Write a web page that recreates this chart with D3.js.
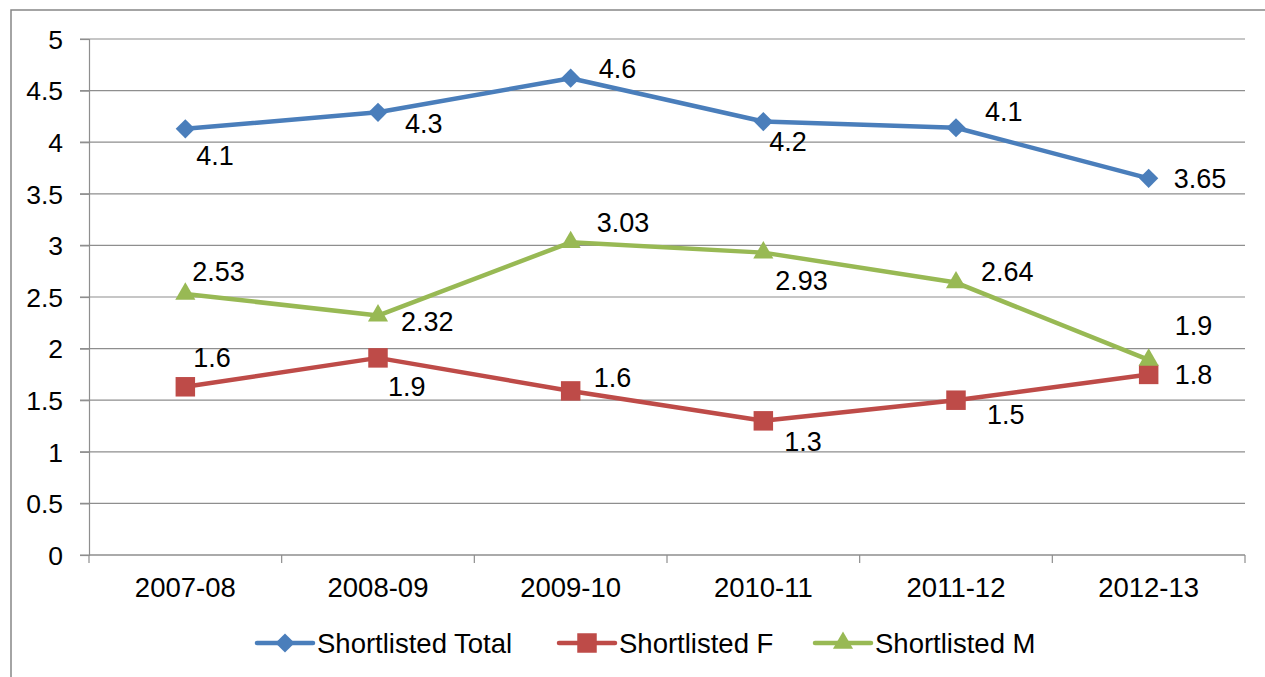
<!DOCTYPE html>
<html>
<head>
<meta charset="utf-8">
<script src="https://cdn.jsdelivr.net/npm/d3@7"></script>
<style>
  html, body { margin: 0; padding: 0; background: #fff; }
  svg { display: block; font-family: "Liberation Sans", Arial, sans-serif; }
</style>
</head>
<body>
<div id="chart"></div>
<script>
// categories and values
const years = ["2007-08", "2008-09", "2009-10", "2010-11", "2011-12", "2012-13"];
const yTicks = [0, 0.5, 1, 1.5, 2, 2.5, 3, 3.5, 4, 4.5, 5];

const totalValues = [4.13, 4.29, 4.62, 4.2, 4.14, 3.65];
const femaleValues = [1.63, 1.91, 1.59, 1.3, 1.5, 1.75];
const maleValues = [2.53, 2.32, 3.03, 2.93, 2.64, 1.89];

// data labels as they are printed on the chart
const totalLabels = ["4.1", "4.3", "4.6", "4.2", "4.1", "3.65"];
const femaleLabels = ["1.6", "1.9", "1.6", "1.3", "1.5", "1.8"];
const maleLabels = ["2.53", "2.32", "3.03", "2.93", "2.64", "1.9"];

const seriesNames = ["Shortlisted Total", "Shortlisted F", "Shortlisted M"];

// label placement (offset from the point), kept apart from the data
const totalLabelPos = [[11, 27], [27, 11], [28, -10], [6, 20], [29, -16], [25, 0]];
const femaleLabelPos = [[8, -29], [10, 29], [23, -13], [21, 21], [31, 14], [26, 0]];
const maleLabelPos = [[7, -22], [23, 6], [26, -20], [12, 28], [25, -11], [26, -34]];

const width = 1265, height = 677;
const margin = {top: 39, right: 20, bottom: 122, left: 89};

const svg = d3.select("#chart")
  .append("svg")
  .attr("width", width)
  .attr("height", height);

// outer chart border (runs off the right and bottom edge)
svg.append("rect")
  .attr("x", 11)
  .attr("y", 10)
  .attr("width", width)
  .attr("height", height)
  .attr("fill", "none")
  .attr("stroke", "#868686")
  .attr("stroke-width", 1.5);

const x = d3.scaleBand()
  .domain(years)
  .range([margin.left, width - margin.right])
  .padding(0);

const y = d3.scaleLinear()
  .domain([0, 5])
  .range([height - margin.bottom, margin.top]);

const cx = d => x(d) + x.bandwidth() / 2;

// horizontal gridlines
svg.append("g")
  .selectAll("line")
  .data(yTicks)
  .enter().append("line")
  .attr("x1", margin.left - 9)
  .attr("x2", width - margin.right)
  .attr("y1", d => y(d))
  .attr("y2", d => y(d))
  .attr("stroke", "#8e8e8e")
  .attr("stroke-width", 1.2);

// y axis
const yAxis = svg.append("g")
  .attr("transform", `translate(${margin.left},0)`)
  .call(d3.axisLeft(y).tickValues(yTicks).tickSize(9).tickPadding(17).tickFormat(d3.format("")));
yAxis.select(".domain").attr("stroke", "#8e8e8e").attr("stroke-width", 1.2);
yAxis.selectAll(".tick line").attr("stroke", "#8e8e8e").attr("stroke-width", 1.2);
yAxis.selectAll("text")
  .attr("font-family", "Liberation Sans, Arial, sans-serif")
  .attr("font-size", 26.5)
  .attr("fill", "#000")
  .attr("dy", "0.35em");

// x axis: labels at band centres, ticks on band edges like Excel
const xAxis = svg.append("g")
  .attr("transform", `translate(0,${y(0)})`)
  .call(d3.axisBottom(x).tickSize(0).tickPadding(22));
xAxis.select(".domain").remove();
xAxis.selectAll("text")
  .attr("font-family", "Liberation Sans, Arial, sans-serif")
  .attr("font-size", 27.5)
  .attr("fill", "#000");

svg.append("line")
  .attr("x1", margin.left)
  .attr("x2", width - margin.right)
  .attr("y1", y(0))
  .attr("y2", y(0))
  .attr("stroke", "#8e8e8e")
  .attr("stroke-width", 1.2);

svg.append("g")
  .selectAll("line")
  .data(years.map(d => x(d)).concat([x.range()[1]]))
  .enter().append("line")
  .attr("x1", d => d)
  .attr("x2", d => d)
  .attr("y1", y(0))
  .attr("y2", y(0) + 8)
  .attr("stroke", "#8e8e8e")
  .attr("stroke-width", 1.2);

const series = [
  {name: seriesNames[0], values: totalValues, labels: totalLabels, pos: totalLabelPos, color: "#4a7ebb", marker: d3.symbolSquare, size: 185, rotate: 45},
  {name: seriesNames[1], values: femaleValues, labels: femaleLabels, pos: femaleLabelPos, color: "#be4b48", marker: d3.symbolSquare, size: 380, rotate: 0},
  {name: seriesNames[2], values: maleValues, labels: maleLabels, pos: maleLabelPos, color: "#98b954", marker: d3.symbolTriangle, size: 175, rotate: 0}
];

const line = d3.line()
  .x((d, i) => cx(years[i]))
  .y(d => y(d));

series.forEach(s => {
  svg.append("path")
    .datum(s.values)
    .attr("d", line)
    .attr("fill", "none")
    .attr("stroke", s.color)
    .attr("stroke-width", 4.5)
    .attr("stroke-linejoin", "round")
    .attr("stroke-linecap", "round");

  svg.append("g")
    .selectAll("path")
    .data(s.values)
    .enter().append("path")
    .attr("d", d3.symbol().type(s.marker).size(s.size))
    .attr("transform", (d, i) => `translate(${cx(years[i])},${y(d)}) rotate(${s.rotate})`)
    .attr("fill", s.color);
});

// data labels drawn after all lines so they stay on top
series.forEach(s => {
  svg.append("g")
    .selectAll("text")
    .data(s.values)
    .enter().append("text")
    .attr("x", (d, i) => cx(years[i]) + s.pos[i][0])
    .attr("y", (d, i) => y(d) + s.pos[i][1])
    .attr("dy", "0.35em")
    .attr("font-size", 27)
    .attr("fill", "#000")
    .text((d, i) => s.labels[i]);
});

// legend
const legendX = [257, 559, 815];
const legend = svg.append("g");
series.forEach((s, i) => {
  const g = legend.append("g").attr("transform", `translate(${legendX[i]},643)`);
  g.append("line")
    .attr("x1", 0).attr("x2", 56)
    .attr("y1", 0).attr("y2", 0)
    .attr("stroke", s.color)
    .attr("stroke-width", 4.5)
    .attr("stroke-linecap", "round");
  g.append("path")
    .attr("d", d3.symbol().type(s.marker).size(s.size))
    .attr("transform", `translate(28,0) rotate(${s.rotate})`)
    .attr("fill", s.color);
  g.append("text")
    .attr("x", 60)
    .attr("dy", "0.35em")
    .attr("font-size", 27.5)
    .attr("fill", "#000")
    .text(s.name);
});
</script>
</body>
</html>
